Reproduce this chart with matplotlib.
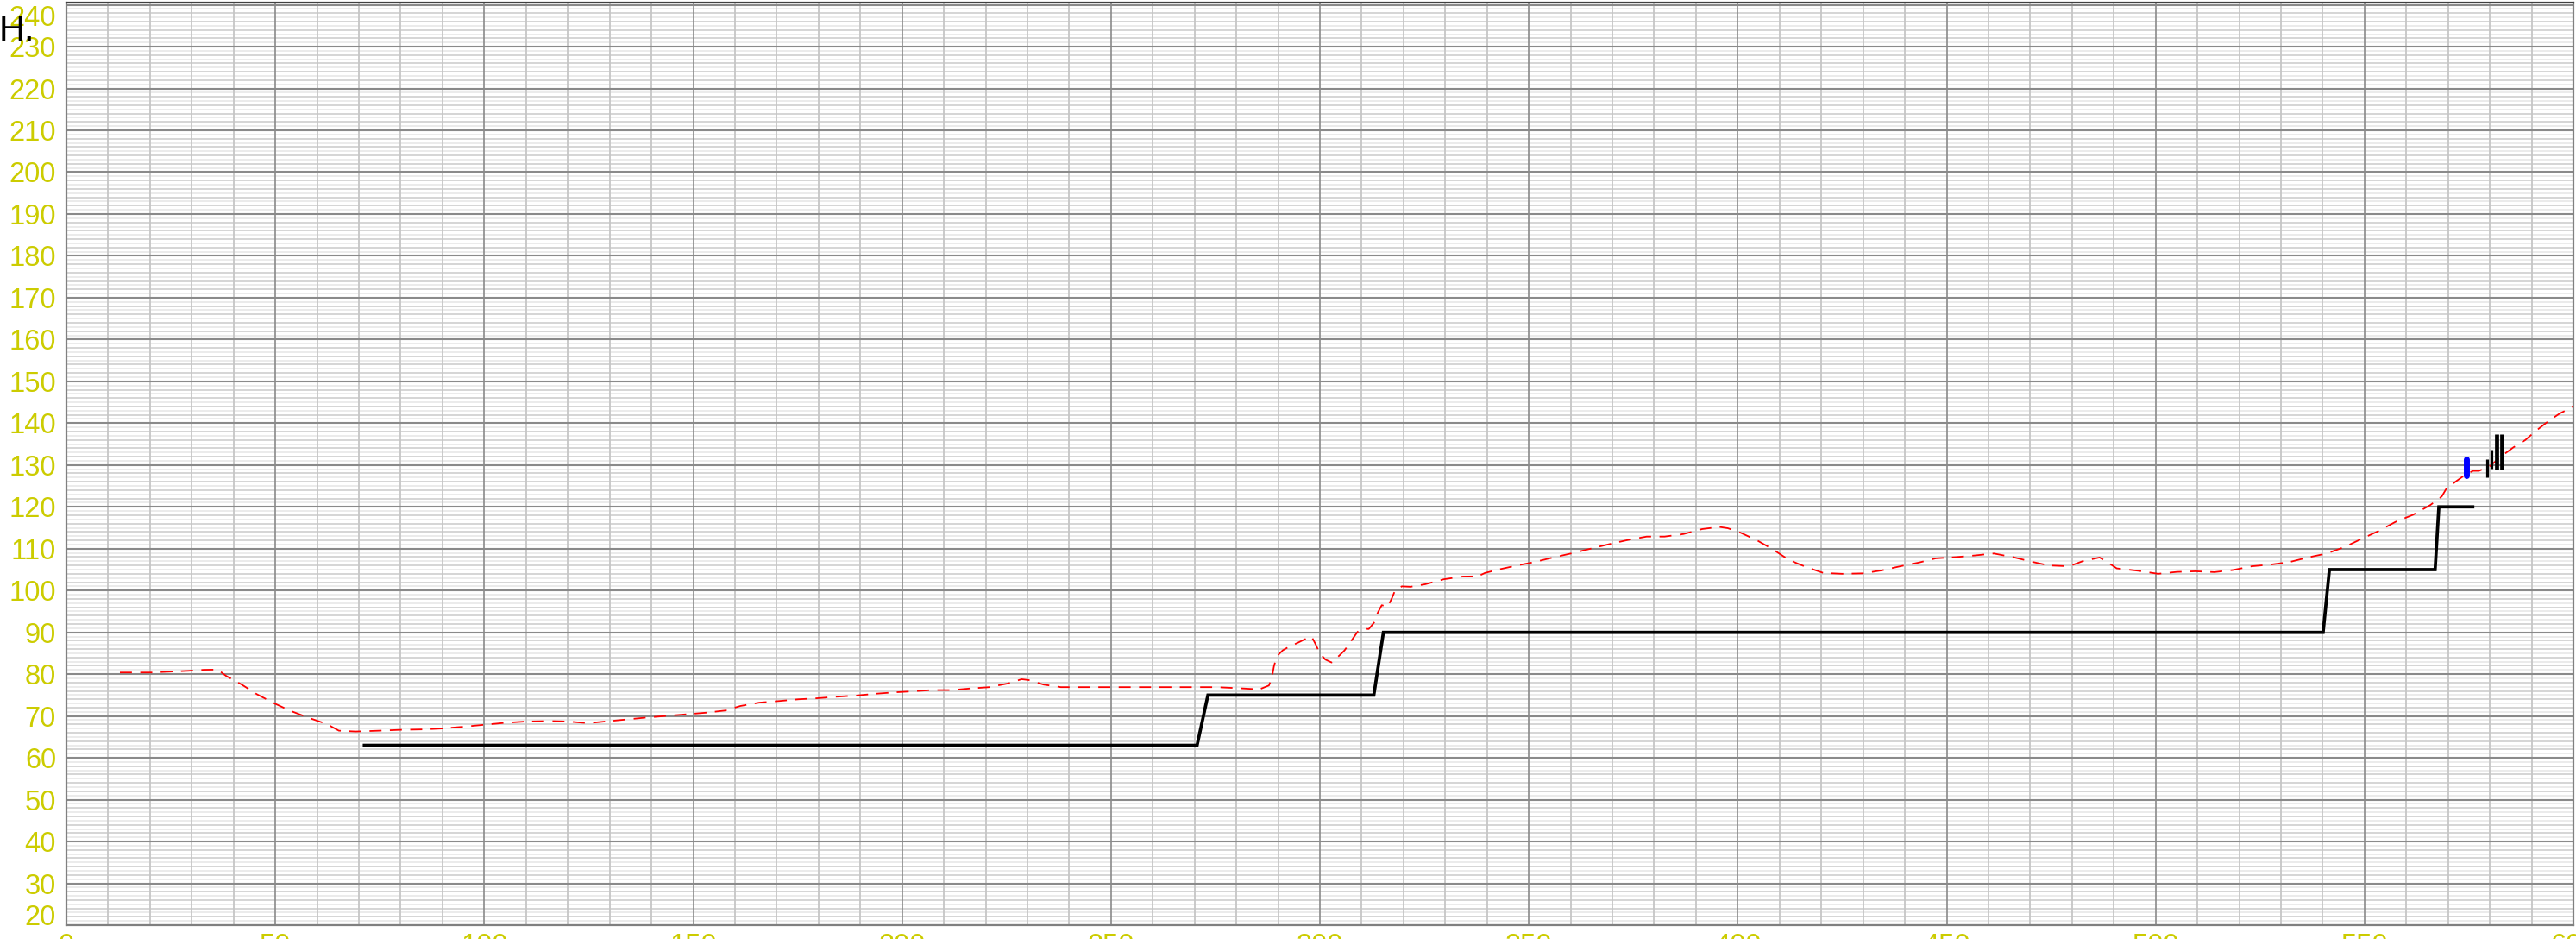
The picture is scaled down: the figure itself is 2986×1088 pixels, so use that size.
import matplotlib
matplotlib.use("Agg")
import matplotlib.pyplot as plt
from matplotlib.ticker import FixedLocator

plt.rcParams["font.family"] = ["Liberation Sans", "DejaVu Sans"]
plt.rcParams["lines.scale_dashes"] = False

# Red dashed profile
red_x = [12.8, 20.3, 24.7, 29.2, 32.9, 36.2, 38.2, 41.9, 45.6, 49.6, 53.7, 58.2, 62.3, 65.2,
         69.2, 75.0, 79.9, 85.2, 89.6, 94.5, 99.9, 105.2, 110.1, 115.8, 119.9, 124.8, 130.1,
         133.5, 138.4, 143.3, 148.2, 153.1, 157.6, 161.3, 165.8, 170.7, 175.2, 179.7, 184.1,
         189.0, 193.9, 198.8, 202.5, 207.0, 211.9, 216.4, 220.9, 225.4, 228.6, 230.3, 233.9,
         238.0, 242.9, 247.8, 252.3, 256.4, 265.9, 270.8, 275.2, 279.7, 284.2, 285.2, 287.8,
         288.5, 289.0, 289.7, 291.1, 292.5, 294.9, 296.9, 298.0, 299.0, 299.9, 301.3, 302.8,
         304.8, 305.9, 307.6, 309.0, 310.0, 311.7, 313.1, 313.8, 314.8, 316.2, 317.2, 317.9,
         319.6, 321.7, 325.2, 329.7, 334.2, 337.8, 339.5, 343.1, 347.2, 351.3, 355.8, 360.3,
         364.8, 369.3, 373.8, 378.2, 382.5, 387.0, 391.5, 395.6, 397.6, 400.5, 404.6, 408.3,
         412.3, 416.4, 420.5, 425.0, 429.9, 434.4, 438.9, 443.4, 447.4, 452.3, 456.8, 461.3,
         465.8, 470.3, 474.4, 479.3, 482.5, 486.6, 488.3, 490.7, 496.0, 500.6, 505.1, 509.6,
         514.1, 518.5, 523.0, 527.5, 532.0, 536.4, 540.9, 545.0, 549.2, 553.3, 557.4, 561.6,
         565.7, 568.5, 569.5, 571.9, 574.3, 576.0, 577.4, 580.1, 582.9, 585.6, 588.4, 591.2,
         593.9, 596.7, 600.0]
red_y = [80.4, 80.4, 80.6, 80.8, 81.05, 81.1, 79.6, 77.55, 75.2, 73.1, 71.2, 69.5, 68.1, 66.5,
         66.3, 66.5, 66.7, 66.8, 67.0, 67.4, 67.9, 68.4, 68.7, 68.8, 68.7, 68.3, 68.8,
         69.1, 69.6, 70.0, 70.4, 70.8, 71.3, 72.4, 73.2, 73.6, 74.0, 74.25, 74.6,
         74.9, 75.35, 75.7, 75.9, 76.2, 76.2, 76.6, 76.9, 77.8, 78.8, 78.6, 77.5,
         76.9, 76.9, 76.9, 76.9, 76.9, 76.9, 76.9, 76.9, 76.7, 76.45, 76.25, 77.3,
         79.1, 81.9, 84.3, 85.7, 86.5, 87.6, 88.6, 89.0, 87.1, 85.1, 83.5, 82.8,
         84.6, 85.7, 88.1, 90.1, 90.9, 90.8, 92.5, 94.6, 96.5, 96.1, 98.1, 99.8,
         101.0, 100.9, 101.5, 102.7, 103.35, 103.4, 104.2, 105.1, 106.0, 106.8, 107.9, 108.9,
         110.0, 111.1, 112.1, 112.9, 112.9, 113.5, 114.7, 115.2, 114.9, 113.9, 112.0, 109.9,
         107.3, 105.6, 104.2, 104.0, 104.1, 104.8, 105.8, 106.7, 107.7, 108.0, 108.4, 108.85,
         108.0, 106.9, 106.0, 105.8, 107.0, 107.9, 106.9, 105.3, 104.7, 104.0, 104.45, 104.6,
         104.4, 104.9, 105.8, 106.2, 106.8, 107.9, 108.85, 110.3, 112.3, 114.2, 116.4, 118.1,
         120.4, 122.5, 124.2, 126.1, 127.8, 128.6, 128.6, 129.8, 132.2, 134.2, 135.9, 138.3,
         140.4, 142.3, 144.0]

# Black stepped line
step_x = [71.3, 270.6, 273.2, 312.9, 315.2, 540.1, 541.6, 566.9, 567.8, 575.9]
step_y = [63, 63, 75, 75, 90, 90, 105, 105, 120, 120]

# Blue marker segment
blue_x = 574.5
blue_lo, blue_hi = 127.5, 131.4

# Black vertical bars
bar_x = [579.3, 580.3, 581.7, 582.9]
bar_lo = [127.1, 129.1, 128.9, 128.9]
bar_hi = [131.4, 133.6, 137.3, 137.3]
bar_lw = [2.3, 2.3, 3.4, 3.4]

x_ticks = list(range(0, 601, 50))
y_ticks = list(range(20, 241, 10))

W, H = 2986, 1088
fig = plt.figure(figsize=(W / 100, H / 100), dpi=100)
ax = fig.add_axes([77 / W, 16 / H, (2983 - 77) / W, (1088 - 2.7 - 16) / H])
ax.set_xlim(0, 600)
ax.set_ylim(20, 240.6)

# Background grid: fine horizontal rulings
for v in range(21, 241):
    if v % 10 == 0:
        continue
    col = "#cacaca" if v % 2 == 0 else "#e6e6e6"
    ax.axhline(v, color=col, lw=1.1, zorder=0.5)
for v in range(10, 600, 10):
    if v % 50 == 0:
        continue
    ax.axvline(v, color="#c6c6c6", lw=1.3, zorder=0.7)
for v in y_ticks:
    ax.axhline(v, color="#8a8a8a", lw=1.5, zorder=0.9)
for v in x_ticks:
    ax.axvline(v, color="#8a8a8a", lw=1.2, zorder=0.9)

ax.xaxis.set_major_locator(FixedLocator(x_ticks))
ax.yaxis.set_major_locator(FixedLocator(y_ticks))
ax.tick_params(axis="both", length=0, labelsize=23.5, labelcolor="#cccc00")
ax.tick_params(axis="y", pad=8.6)
ax.tick_params(axis="x", pad=6.5)

# Keep the outermost y labels inside the plotting area
yt = ax.yaxis.get_major_ticks()
yt[0].label1.set_verticalalignment("baseline")
yt[-1].label1.set_verticalalignment("top")

for s in ax.spines.values():
    s.set_color("#808080")
    s.set_linewidth(1.6)
ax.spines["top"].set_color("#404040")

# Data
ax.plot(red_x, red_y, color="#ff0000", lw=1.3, dashes=(10, 7), zorder=3)
ax.plot(step_x, step_y, color="black", lw=2.7, zorder=4, solid_joinstyle="miter")
ax.plot([blue_x, blue_x], [blue_lo, blue_hi], color="#0000ff", lw=5.0,
        solid_capstyle="round", zorder=5)
for x, lo, hi, lw in zip(bar_x, bar_lo, bar_hi, bar_lw):
    ax.plot([x, x], [lo, hi], color="black", lw=lw, solid_capstyle="butt", zorder=5)

fig.text(-1 / W, 1 - 47 / H, "H.", fontsize=30, color="black", ha="left", va="baseline")

fig.savefig("out.png", dpi=100)
